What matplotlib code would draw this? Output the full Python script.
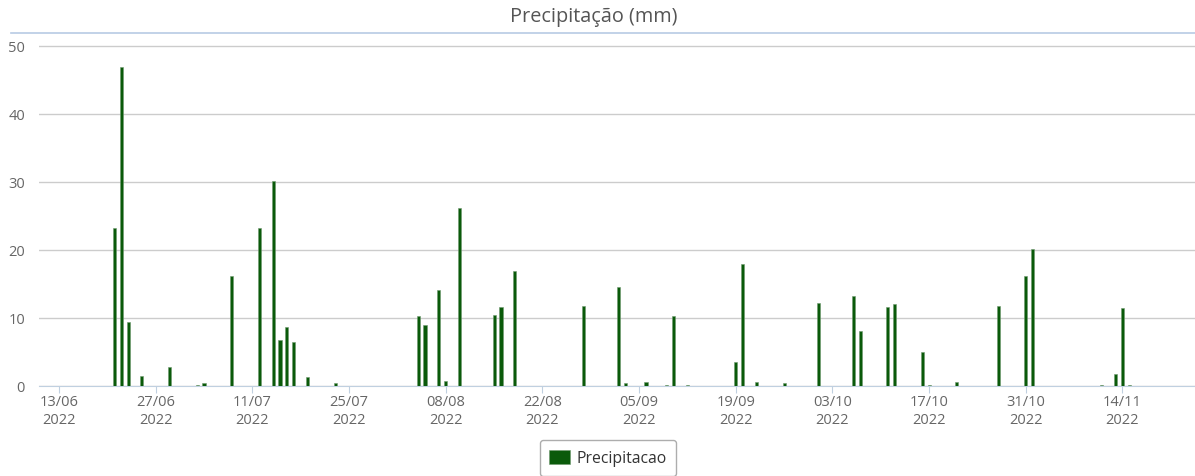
import datetime
import matplotlib
matplotlib.use("Agg")
import matplotlib.pyplot as plt
import matplotlib.dates as mdates
from matplotlib.lines import Line2D

# data
dates = ["21/06", "22/06", "23/06", "25/06", "29/06", "03/07", "04/07", "08/07",
         "12/07", "14/07", "15/07", "16/07", "17/07", "19/07", "23/07",
         "04/08", "05/08", "07/08", "08/08", "10/08", "15/08", "16/08", "18/08",
         "28/08", "02/09", "03/09", "06/09", "09/09", "10/09", "12/09",
         "19/09", "20/09", "22/09", "26/09", "01/10", "06/10", "07/10",
         "11/10", "12/10", "16/10", "17/10", "21/10", "27/10", "31/10",
         "01/11", "11/11", "13/11", "14/11", "15/11"]
precip = [23.3, 46.9, 9.4, 1.4, 2.8, 0.2, 0.5, 16.1,
          23.3, 30.1, 6.8, 8.7, 6.4, 1.3, 0.4,
          10.3, 8.9, 14.1, 0.7, 26.2, 10.4, 11.6, 16.9,
          11.8, 14.5, 0.4, 0.6, 0.15, 10.3, 0.15,
          3.6, 18.0, 0.6, 0.45, 12.2, 13.3, 8.1,
          11.6, 12.0, 5.0, 0.15, 0.6, 11.8, 16.1,
          20.2, 0.2, 1.8, 11.4, 0.2]
tick_dates = ["13/06", "27/06", "11/07", "25/07", "08/08", "22/08", "05/09",
              "19/09", "03/10", "17/10", "31/10", "14/11"]
yticks = [0, 10, 20, 30, 40, 50]

def to_date(s):
    return datetime.datetime.strptime(s + "/2022", "%d/%m/%Y")

x = [to_date(d) for d in dates]
ticks = [to_date(d) for d in tick_dates]
start = to_date("13/06")

plt.rcParams['font.family'] = ['Open Sans', 'DejaVu Sans']

W, H = 1195, 477
fig = plt.figure(figsize=(W / 100, H / 100), dpi=100)
ax = fig.add_axes([39 / W, 1 - 387 / H, 1 - 39 / W, (387 - 34) / H])

green = "#0a5a0a"
ax.bar(x, precip, width=0.45, color=green, edgecolor="#6f9a6f", linewidth=0.4,
       zorder=3, label="Precipitacao")

ax.set_xlim(start - datetime.timedelta(days=2.9), start + datetime.timedelta(days=164.5))
ax.set_ylim(0, 51.9)
ax.set_yticks(yticks)
ax.yaxis.grid(True, color="#cccccc", linewidth=1)
ax.set_axisbelow(True)

ax.set_xticks(ticks)
ax.xaxis.set_major_formatter(mdates.DateFormatter("%d/%m\n%Y"))
ax.tick_params(axis="x", length=5, color="#c0d0e0", labelsize=10.5, labelcolor="#666666", pad=1)
ax.tick_params(axis="y", length=0, labelsize=10.5, labelcolor="#666666", pad=10)
for lbl in ax.get_xticklabels():
    lbl.set_linespacing(1.2)

for side in ["left", "right", "top"]:
    ax.spines[side].set_visible(False)
ax.spines["bottom"].set_color("#c0d0e0")

# blue line under the title
fig.add_artist(Line2D([11 / W, 1], [1 - 34 / H, 1 - 34 / H], color="#b8cbe4", linewidth=1.2))

fig.text(594 / W, 1 - 17 / H, "Precipitação (mm)", ha="center", va="center",
         fontsize=14.3, color="#555555")

leg = fig.legend(loc="center", bbox_to_anchor=(608 / W, 1 - 459 / H), frameon=True,
                 fontsize=11.3, handlelength=1.35, handleheight=1.05, borderpad=0.6,
                 handletextpad=0.4, fancybox=True)
leg.get_frame().set_edgecolor("#999999")
leg.get_frame().set_linewidth(1)
for t in leg.get_texts():
    t.set_color("#333333")

fig.savefig("out.png", dpi=100)
